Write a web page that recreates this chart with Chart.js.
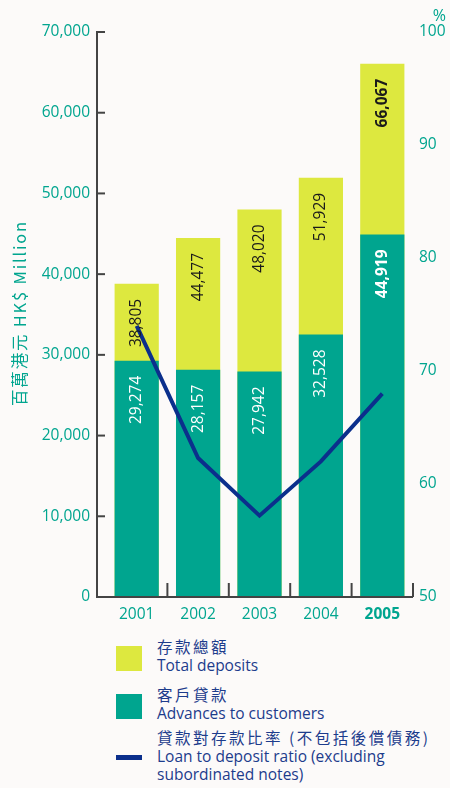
<!DOCTYPE html>
<html>
<head>
<meta charset="utf-8">
<script src="https://cdn.jsdelivr.net/npm/chart.js@4.4.1/dist/chart.umd.min.js"></script>
<style>
  body { margin: 0; background: #fcfaf9; width: 450px; height: 788px; overflow: hidden; font-family: "Open Sans", "Noto Sans CJK TC", sans-serif; }
  #wrap { position: relative; width: 450px; height: 625px; }
  .legend { position: absolute; color: #1d3c8c; font-size: 15.5px; line-height: 18px; }
  .legend .zh { font-family: "Noto Sans CJK TC", sans-serif; font-size: 15.5px; letter-spacing: 2.5px; line-height: 19px; }
</style>
</head>
<body>
<div id="wrap"><canvas id="chart" width="450" height="625"></canvas></div>
<div id="legend"></div>
<script>
// 數據
const years = ['2001', '2002', '2003', '2004', '2005'];
const totalDeposits = [38805, 44477, 48020, 51929, 66067];
const advances = [29274, 28157, 27942, 32528, 44919];
const loanRatio = [74.0, 62.3, 57.2, 62.0, 68.0];
const leftTicks = [0, 10000, 20000, 30000, 40000, 50000, 60000, 70000];
const rightTicks = [50, 60, 70, 80, 90, 100];
const highlightIndex = 4; // 2005 加粗

const TEAL = '#00a58f';
const LIME = '#dde83f';
const NAVY = '#0b2f8c';
const AXIS = '#444444';
const FONT = '"Open Sans", sans-serif';

const fmt = n => n.toLocaleString('en-US');

// 自訂軸線、數值標籤、標題
const decorations = {
    id: 'decorations',
    afterDatasetsDraw(chart) {
        const { ctx, chartArea } = chart;
        const { top, bottom, left, right } = chartArea;
        const axisX = left - 9;
        const yScale = chart.scales.y;
        const xScale = chart.scales.x;

        ctx.save();
        // 數值標籤
        const drawLabels = (dsIndex, values, color) => {
            const meta = chart.getDatasetMeta(dsIndex);
            meta.data.forEach((bar, i) => {
                ctx.save();
                ctx.translate(bar.x, bar.y + 15);
                ctx.rotate(-Math.PI / 2);
                ctx.font = (i === highlightIndex ? 'bold ' : '') + '15.5px ' + FONT;
                ctx.fillStyle = color;
                ctx.textAlign = 'right';
                ctx.textBaseline = 'middle';
                ctx.fillText(fmt(values[i]), 0, 0);
                ctx.restore();
            });
        };
        drawLabels(2, totalDeposits, '#1a1a1a');
        drawLabels(1, advances, '#ffffff');

        // 軸線
        ctx.strokeStyle = AXIS;
        ctx.lineWidth = 2;
        ctx.beginPath();
        ctx.moveTo(axisX, top - 1);
        ctx.lineTo(axisX, bottom);
        ctx.lineTo(right, bottom);
        ctx.stroke();
        leftTicks.forEach(v => {
            const y = yScale.getPixelForValue(v);
            ctx.beginPath();
            ctx.moveTo(axisX, y);
            ctx.lineTo(left - 1, y);
            ctx.stroke();
        });
        // 類別分隔短線
        const seps = [axisX];
        for (let i = 0; i < years.length - 1; i++) {
            seps.push((xScale.getPixelForValue(i) + xScale.getPixelForValue(i + 1)) / 2);
        }
        seps.push(right);
        seps.forEach(x => {
            ctx.beginPath();
            ctx.moveTo(x, bottom);
            ctx.lineTo(x, bottom - 14);
            ctx.stroke();
        });

        // 標題
        ctx.fillStyle = TEAL;
        ctx.font = '16px ' + FONT;
        ctx.textAlign = 'right';
        ctx.textBaseline = 'middle';
        ctx.fillText('%', 446, 16);

        ctx.save();
        ctx.translate(20, 313);
        ctx.rotate(-Math.PI / 2);
        ctx.textAlign = 'center';
        ctx.font = '16.5px "Noto Sans CJK TC", ' + FONT;
        ctx.letterSpacing = '1.8px';
        ctx.fillText('百萬港元 HK$ Million', 0, 0);
        ctx.restore();

        ctx.restore();
    }
};

new Chart(document.getElementById('chart'), {
    data: {
        labels: years,
        datasets: [
            {
                type: 'line',
                label: 'Loan to deposit ratio',
                data: loanRatio,
                yAxisID: 'y1',
                borderColor: NAVY,
                borderWidth: 4,
                pointRadius: 0,
                tension: 0,
                borderJoinStyle: 'miter'
            },
            {
                type: 'bar',
                label: 'Advances to customers',
                data: advances,
                yAxisID: 'y',
                backgroundColor: TEAL,
                grouped: false,
                barPercentage: 0.72,
                categoryPercentage: 1
            },
            {
                type: 'bar',
                label: 'Total deposits',
                data: totalDeposits,
                yAxisID: 'y',
                backgroundColor: LIME,
                grouped: false,
                barPercentage: 0.72,
                categoryPercentage: 1
            }
        ]
    },
    options: {
        responsive: false,
        animation: false,
        layout: { padding: { top: 32, left: 0, right: 0, bottom: 0 } },
        plugins: { legend: { display: false }, tooltip: { enabled: false } },
        scales: {
            x: {
                grid: { display: false, drawTicks: false, tickLength: 0 },
                border: { display: false },
                afterFit(scale) { scale.height = 28; },
                ticks: {
                    padding: 8,
                    color: TEAL,
                    font: ctx => ({ family: FONT, size: 15.5, weight: ctx.index === highlightIndex ? 'bold' : 'normal' })
                }
            },
            y: {
                position: 'left',
                min: 0,
                max: 70000,
                afterFit(scale) { scale.width = 106; },
                afterBuildTicks(scale) { scale.ticks = leftTicks.map(v => ({ value: v })); },
                grid: { display: false, drawTicks: false, tickLength: 0 },
                border: { display: false },
                ticks: {
                    padding: 16,
                    color: TEAL,
                    font: { family: FONT, size: 15.5 },
                    callback: v => fmt(v)
                }
            },
            y1: {
                position: 'right',
                min: 50,
                max: 100,
                afterFit(scale) { scale.width = 37; },
                afterBuildTicks(scale) { scale.ticks = rightTicks.map(v => ({ value: v })); },
                grid: { display: false, drawTicks: false, tickLength: 0 },
                border: { display: false },
                ticks: {
                    padding: 6,
                    color: TEAL,
                    font: { family: FONT, size: 15.5 }
                }
            }
        }
    },
    plugins: [decorations]
});

// 圖例
const legendItems = [
    { zh: '存款總額', en: ['Total deposits'], color: LIME, kind: 'box' },
    { zh: '客戶貸款', en: ['Advances to customers'], color: TEAL, kind: 'box' },
    { zh: '貸款對存款比率 (不包括後償債務)', en: ['Loan to deposit ratio (excluding', 'subordinated notes)'], color: NAVY, kind: 'line' }
];
const legendTops = [637, 685, 728];
const legendEl = document.getElementById('legend');
legendItems.forEach((item, i) => {
    const top = legendTops[i];
    const sw = document.createElement('div');
    sw.style.position = 'absolute';
    sw.style.background = item.color;
    sw.style.left = '116px';
    if (item.kind === 'box') {
        sw.style.top = (top + 9) + 'px';
        sw.style.width = '26px';
        sw.style.height = '25px';
    } else {
        sw.style.top = (top + 27) + 'px';
        sw.style.width = '26px';
        sw.style.height = '5px';
    }
    legendEl.appendChild(sw);
    const txt = document.createElement('div');
    txt.className = 'legend';
    txt.style.top = top + 'px';
    txt.style.left = '157px';
    txt.innerHTML = '<div class="zh">' + item.zh + '</div>' + item.en.map(l => '<div>' + l + '</div>').join('');
    legendEl.appendChild(txt);
});
</script>
</body>
</html>
